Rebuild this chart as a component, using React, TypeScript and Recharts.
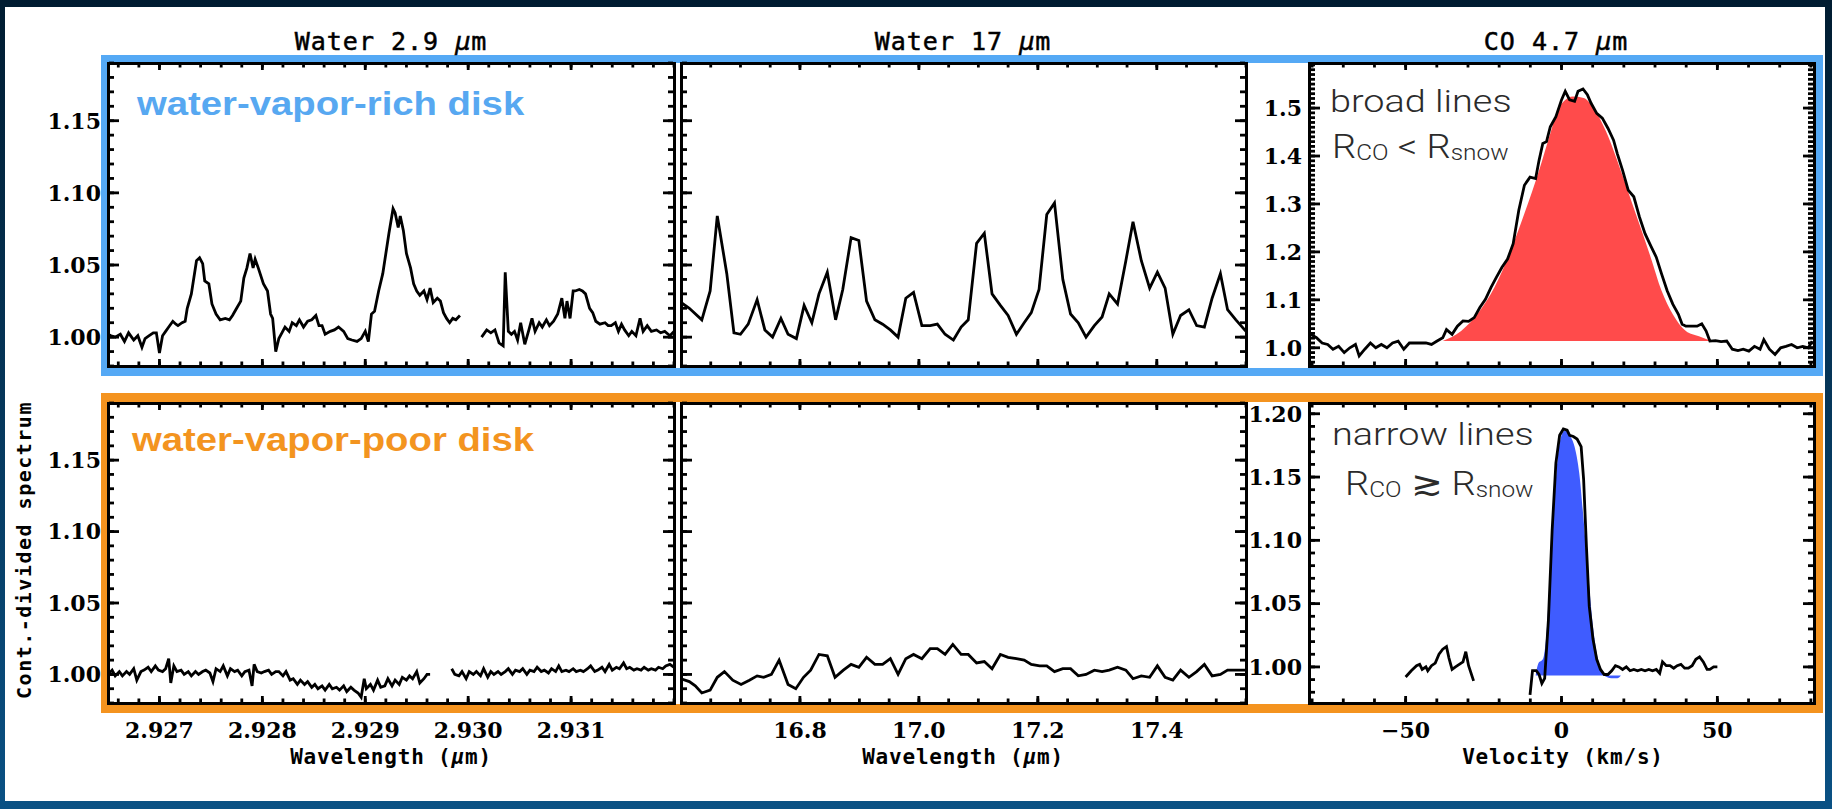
import React from 'react';
import { Area, ComposedChart, Line, XAxis, YAxis } from 'recharts';

type Pt = [number, number | null];

// ---- Water 2.9 um, rich disk (wavelength um, cont.-divided flux) ----
const rich29: Pt[] = [
	[2.9265, 1.002], [2.92653, 1.001], [2.92657, 1.0], [2.92662, 1.002], [2.92666, 0.997], [2.9267, 1.003],
	[2.92675, 0.998], [2.92679, 1.001], [2.92683, 0.993], [2.92686, 0.999], [2.9269, 1.001], [2.92694, 1.003],
	[2.92697, 1.003], [2.927, 0.989], [2.92703, 1.001], [2.92706, 1.004], [2.92709, 1.007], [2.92713, 1.011],
	[2.92716, 1.009], [2.92718, 1.008], [2.92722, 1.01], [2.92725, 1.011], [2.92727, 1.02], [2.92731, 1.03],
	[2.92736, 1.053], [2.92739, 1.055], [2.92742, 1.051], [2.92744, 1.039], [2.92748, 1.037], [2.92751, 1.023],
	[2.92755, 1.016], [2.92759, 1.012], [2.92764, 1.013], [2.92768, 1.012], [2.92771, 1.015], [2.92775, 1.02],
	[2.92779, 1.025], [2.92782, 1.041], [2.92785, 1.048], [2.92788, 1.058], [2.92791, 1.048], [2.92793, 1.054],
	[2.92796, 1.048], [2.92801, 1.037], [2.92805, 1.032], [2.92808, 1.016], [2.9281, 1.013], [2.92813, 0.99],
	[2.92816, 0.999], [2.92819, 1.003], [2.92822, 1.007], [2.92826, 1.004], [2.92829, 1.01], [2.92833, 1.008],
	[2.92836, 1.012], [2.9284, 1.007], [2.92844, 1.011], [2.92848, 1.012], [2.92852, 1.015], [2.92855, 1.008],
	[2.92858, 1.008], [2.92861, 1.002], [2.92866, 1.004], [2.9287, 1.005], [2.92874, 1.007], [2.92879, 1.004],
	[2.92883, 0.999], [2.92887, 0.998], [2.92892, 0.997], [2.92896, 0.999], [2.929, 1.004], [2.92903, 0.997],
	[2.92906, 1.016], [2.92909, 1.018], [2.92913, 1.032], [2.92917, 1.044], [2.9292, 1.058], [2.92923, 1.072],
	[2.92927, 1.089], [2.92929, 1.086], [2.92932, 1.076], [2.92934, 1.084], [2.92937, 1.074], [2.9294, 1.058],
	[2.92944, 1.048], [2.92947, 1.037], [2.9295, 1.032], [2.92953, 1.029], [2.92957, 1.032], [2.9296, 1.026],
	[2.92963, 1.034], [2.92966, 1.024], [2.9297, 1.027], [2.92973, 1.025], [2.92976, 1.017], [2.92979, 1.013],
	[2.92982, 1.01], [2.92985, 1.013], [2.92988, 1.012], [2.92992, 1.015], [2.93002, null],
	[2.93013, 1.0], [2.93018, 1.005], [2.93022, 1.003], [2.93026, 1.005], [2.9303, 0.996], [2.93034, 0.994],
	[2.93036, 1.045], [2.93039, 1.004], [2.93042, 1.002], [2.93045, 1.004], [2.93048, 0.998], [2.93051, 1.01],
	[2.93055, 0.995], [2.93059, 1.005], [2.93062, 1.013], [2.93065, 1.004], [2.93069, 1.01], [2.93072, 1.007],
	[2.93076, 1.012], [2.93079, 1.008], [2.93083, 1.011], [2.93087, 1.016], [2.93091, 1.027], [2.93094, 1.013],
	[2.93096, 1.025], [2.93099, 1.013], [2.93102, 1.032], [2.93104, 1.032], [2.93108, 1.033], [2.93111, 1.032],
	[2.93114, 1.03], [2.93118, 1.02], [2.93121, 1.017], [2.93124, 1.011], [2.93128, 1.009], [2.93133, 1.01],
	[2.93136, 1.008], [2.93139, 1.008], [2.93143, 1.01], [2.93146, 1.004], [2.93149, 1.009], [2.93152, 1.005],
	[2.93156, 1.001], [2.93159, 1.004], [2.93163, 1.001], [2.93167, 1.013], [2.9317, 1.004], [2.93174, 1.008],
	[2.93178, 1.004], [2.93183, 1.005], [2.93187, 1.003], [2.93191, 1.004], [2.93196, 1.001], [2.932, 1.004],
];

// ---- Water 2.9 um, poor disk ----
const poor29: Pt[] = [
	[2.9265, 1.0], [2.92654, 1.003], [2.92657, 0.999], [2.92661, 1.002], [2.92664, 0.999], [2.92668, 1.002],
	[2.92671, 1.0], [2.92675, 1.004], [2.92678, 0.996], [2.92682, 1.002], [2.92685, 1.003], [2.92689, 1.005],
	[2.92692, 1.002], [2.92696, 1.006], [2.92699, 1.003], [2.92703, 1.002], [2.92706, 1.004], [2.92709, 1.011],
	[2.92711, 0.994], [2.92714, 1.006], [2.92717, 1.002], [2.92721, 1.003], [2.92724, 1.0], [2.92728, 1.002],
	[2.92731, 0.999], [2.92735, 1.002], [2.92738, 1.0], [2.92742, 1.002], [2.92745, 1.003], [2.92749, 1.001],
	[2.92752, 0.995], [2.92755, 1.004], [2.92759, 1.002], [2.92762, 1.006], [2.92766, 0.999], [2.92769, 1.004],
	[2.92773, 1.002], [2.92776, 1.003], [2.9278, 0.999], [2.92783, 1.002], [2.92787, 1.003], [2.9279, 0.992],
	[2.92792, 1.007], [2.92795, 1.002], [2.92799, 1.001], [2.92802, 1.002], [2.92806, 1.003], [2.92809, 1.0],
	[2.92813, 1.002], [2.92816, 1.002], [2.9282, 0.999], [2.92823, 1.002], [2.92827, 0.996], [2.9283, 0.997],
	[2.92834, 0.993], [2.92837, 0.996], [2.92841, 0.993], [2.92844, 0.995], [2.92848, 0.991], [2.92851, 0.993],
	[2.92854, 0.99], [2.92858, 0.992], [2.92861, 0.989], [2.92865, 0.993], [2.92868, 0.99], [2.92872, 0.991],
	[2.92875, 0.989], [2.92879, 0.992], [2.92882, 0.988], [2.92886, 0.991], [2.92889, 0.989], [2.92893, 0.987],
	[2.92896, 0.984], [2.92899, 0.997], [2.92901, 0.99], [2.92905, 0.993], [2.92908, 0.989], [2.92912, 0.996],
	[2.92915, 0.991], [2.92919, 0.992], [2.92922, 0.997], [2.92926, 0.992], [2.92929, 0.996], [2.92933, 0.993],
	[2.92936, 0.998], [2.9294, 0.996], [2.92943, 0.999], [2.92946, 0.997], [2.9295, 1.002], [2.92953, 0.994],
	[2.92957, 0.997], [2.9296, 1.0], [2.92963, 1.0], [2.92975, null],
	[2.92984, 1.004], [2.92987, 1.0], [2.92991, 0.999], [2.92994, 1.002], [2.92998, 0.997], [2.93001, 1.002],
	[2.93005, 1.0], [2.93008, 1.002], [2.93012, 0.999], [2.93015, 1.004], [2.93019, 0.998], [2.93022, 1.002],
	[2.93025, 1.0], [2.93029, 1.002], [2.93032, 1.0], [2.93036, 1.002], [2.93039, 1.004], [2.93043, 1.0],
	[2.93046, 1.003], [2.9305, 1.002], [2.93053, 1.004], [2.93057, 1.0], [2.9306, 1.003], [2.93064, 1.002],
	[2.93067, 1.005], [2.93071, 1.002], [2.93074, 1.003], [2.93078, 1.001], [2.93081, 1.004], [2.93085, 1.002],
	[2.93088, 1.006], [2.93091, 1.002], [2.93095, 1.003], [2.93098, 1.002], [2.93102, 1.004], [2.93105, 1.002],
	[2.93109, 1.003], [2.93112, 1.002], [2.93116, 1.004], [2.93119, 1.006], [2.93123, 1.002], [2.93126, 1.003],
	[2.9313, 1.005], [2.93133, 1.002], [2.93137, 1.007], [2.9314, 1.003], [2.93144, 1.005], [2.93147, 1.004],
	[2.93151, 1.008], [2.93154, 1.004], [2.93157, 1.005], [2.93161, 1.003], [2.93164, 1.004], [2.93168, 1.003],
	[2.93171, 1.005], [2.93175, 1.003], [2.93178, 1.004], [2.93182, 1.003], [2.93185, 1.005], [2.93189, 1.004],
	[2.93192, 1.006], [2.93196, 1.007], [2.932, 1.005],
];

// ---- Water 17 um ----
const rich17: Pt[] = [
	[16.6, 1.024], [16.614, 1.02], [16.635, 1.012], [16.649, 1.032], [16.661, 1.084], [16.677, 1.044],
	[16.689, 1.003], [16.7, 1.002], [16.713, 1.009], [16.728, 1.026], [16.741, 1.005], [16.754, 1.0],
	[16.768, 1.013], [16.78, 1.002], [16.794, 0.999], [16.807, 1.022], [16.82, 1.01], [16.832, 1.03],
	[16.846, 1.045], [16.86, 1.012], [16.872, 1.033], [16.886, 1.069], [16.899, 1.067], [16.912, 1.025],
	[16.926, 1.012], [16.939, 1.009], [16.952, 1.005], [16.965, 1.0], [16.978, 1.027], [16.991, 1.031],
	[17.005, 1.008], [17.019, 1.008], [17.031, 1.009], [17.044, 1.002], [17.058, 0.998], [17.071, 1.007],
	[17.083, 1.012], [17.097, 1.065], [17.11, 1.072], [17.123, 1.03], [17.137, 1.022], [17.15, 1.015],
	[17.164, 1.002], [17.177, 1.01], [17.189, 1.017], [17.202, 1.033], [17.215, 1.085], [17.228, 1.093],
	[17.242, 1.04], [17.255, 1.016], [17.268, 1.01], [17.281, 1.0], [17.295, 1.008], [17.308, 1.014],
	[17.32, 1.03], [17.334, 1.023], [17.348, 1.053], [17.36, 1.08], [17.374, 1.053], [17.388, 1.034],
	[17.401, 1.045], [17.414, 1.034], [17.427, 1.002], [17.44, 1.015], [17.454, 1.019], [17.467, 1.008],
	[17.48, 1.007], [17.493, 1.027], [17.507, 1.044], [17.519, 1.019], [17.533, 1.012], [17.55, 1.004],
];

const poor17: Pt[] = [
	[16.6, 0.997], [16.614, 0.995], [16.624, 0.992], [16.635, 0.987], [16.649, 0.989], [16.661, 0.998],
	[16.673, 1.002], [16.687, 0.996], [16.701, 0.993], [16.715, 0.996], [16.728, 0.999], [16.739, 0.998],
	[16.752, 1.0], [16.765, 1.01], [16.78, 0.993], [16.793, 0.99], [16.806, 0.998], [16.818, 1.003],
	[16.832, 1.014], [16.846, 1.013], [16.859, 0.998], [16.873, 1.003], [16.886, 1.007], [16.899, 1.005],
	[16.912, 1.012], [16.926, 1.007], [16.939, 1.007], [16.952, 1.011], [16.965, 1.0], [16.978, 1.011],
	[16.991, 1.014], [17.005, 1.011], [17.019, 1.018], [17.031, 1.018], [17.044, 1.014], [17.057, 1.021],
	[17.071, 1.014], [17.083, 1.014], [17.097, 1.008], [17.11, 1.009], [17.123, 1.004], [17.137, 1.014],
	[17.15, 1.012], [17.164, 1.011], [17.177, 1.01], [17.189, 1.007], [17.203, 1.006], [17.215, 1.006],
	[17.228, 1.002], [17.242, 1.004], [17.255, 1.004], [17.268, 0.999], [17.281, 1.0], [17.295, 1.003],
	[17.308, 1.002], [17.32, 1.003], [17.334, 1.005], [17.348, 1.003], [17.36, 0.997], [17.374, 0.999],
	[17.388, 0.998], [17.401, 1.006], [17.414, 0.998], [17.427, 0.996], [17.44, 1.003], [17.454, 0.998],
	[17.467, 1.002], [17.48, 1.007], [17.493, 0.999], [17.507, 1.0], [17.519, 1.003], [17.533, 1.003],
	[17.55, 1.003],
];

// ---- CO 4.7 um (velocity km/s) ----
const coRich: Pt[] = [
	[-80.4, 1.028], [-78.6, 1.021], [-76.8, 1.01], [-75.0, 1.007], [-73.3, 0.997], [-71.5, 1.003],
	[-69.7, 0.99], [-67.9, 1.0], [-66.1, 1.007], [-64.9, 0.983], [-63.1, 0.997], [-61.3, 1.01],
	[-59.6, 1.0], [-57.8, 1.007], [-56.0, 1.0], [-54.2, 1.01], [-52.4, 1.014], [-50.6, 0.997],
	[-48.8, 1.01], [-47.1, 1.01], [-45.3, 1.01], [-43.5, 1.01], [-41.7, 1.007], [-39.9, 1.014],
	[-38.1, 1.021], [-36.9, 1.038], [-35.1, 1.028], [-33.4, 1.045], [-31.6, 1.056], [-29.8, 1.055],
	[-28.0, 1.063], [-26.2, 1.084], [-24.4, 1.101], [-22.6, 1.126], [-20.9, 1.147], [-19.1, 1.168],
	[-17.3, 1.185], [-15.5, 1.217], [-13.7, 1.287], [-11.9, 1.339], [-10.1, 1.356], [-8.3, 1.353],
	[-7.2, 1.391], [-6.0, 1.426], [-4.8, 1.43], [-3.6, 1.461], [-1.8, 1.482], [0.0, 1.517],
	[1.2, 1.535], [2.6, 1.517], [4.2, 1.514], [5.3, 1.535], [6.9, 1.54], [8.3, 1.528],
	[9.5, 1.51], [11.3, 1.489], [13.1, 1.479], [14.9, 1.458], [16.7, 1.433], [17.9, 1.405],
	[19.6, 1.37], [21.4, 1.329], [23.2, 1.315], [25.0, 1.273], [26.8, 1.238], [28.6, 1.213],
	[30.4, 1.189], [32.1, 1.154], [33.9, 1.119], [35.7, 1.091], [37.5, 1.07], [38.7, 1.049],
	[39.9, 1.045], [41.7, 1.045], [43.5, 1.045], [45.0, 1.05], [46.4, 1.035], [47.6, 1.014],
	[49.4, 1.015], [51.2, 1.013], [53.0, 1.014], [54.8, 0.997], [56.6, 0.994], [58.3, 0.997],
	[60.1, 0.993], [61.9, 1.003], [63.7, 0.997], [64.9, 1.017], [66.7, 0.997], [68.5, 0.986],
	[70.3, 1.0], [72.0, 1.003], [73.8, 1.007], [75.6, 1.0], [77.4, 1.003], [79.2, 1.0], [80.4, 1.014],
];

const coRichFit: Pt[] = [
	[-38.1, 1.014], [-32.2, 1.035], [-26.2, 1.077], [-21.5, 1.126], [-16.7, 1.196], [-11.9, 1.28],
	[-7.2, 1.37], [-3.6, 1.447], [-1.2, 1.496], [1.2, 1.517], [3.6, 1.524], [7.1, 1.521],
	[10.7, 1.496], [14.3, 1.451], [19.0, 1.37], [23.8, 1.28], [28.6, 1.189], [32.1, 1.119],
	[35.7, 1.07], [39.9, 1.035], [44.1, 1.024], [48.2, 1.014],
];

const coPoor: Pt[] = [
	[-50.0, 0.992], [-48.2, 0.997], [-46.5, 1.001], [-45.5, 1.002], [-44.7, 0.998], [-43.5, 1.0],
	[-42.9, 0.997], [-41.7, 1.001], [-40.5, 1.003], [-39.3, 1.01], [-38.1, 1.014], [-36.9, 1.016],
	[-36.1, 1.007], [-35.1, 0.998], [-34.0, 1.0], [-32.8, 1.002], [-31.6, 1.004], [-30.7, 1.012],
	[-29.8, 1.001], [-28.2, 0.989], [-20.0, null],
	[-10.1, 0.978], [-9.3, 0.997], [-8.1, 0.997], [-7.2, 0.994], [-6.3, 0.987], [-5.4, 0.991],
	[-4.2, 1.037], [-3.0, 1.108], [-1.8, 1.161], [-0.6, 1.183], [0.6, 1.188], [1.8, 1.187],
	[2.6, 1.183], [3.8, 1.182], [5.0, 1.18], [6.3, 1.174], [7.1, 1.148], [8.0, 1.095],
	[8.9, 1.048], [10.1, 1.022], [11.3, 1.006], [12.5, 0.998], [13.7, 0.994], [14.9, 0.994],
	[16.1, 0.997], [17.3, 1.001], [18.4, 1.0], [19.6, 0.998], [20.8, 1.0], [22.0, 0.997],
	[23.2, 0.998], [24.4, 0.997], [25.6, 0.998], [26.8, 0.997], [28.0, 0.998], [29.2, 0.997],
	[30.4, 0.998], [31.5, 0.995], [32.4, 1.004], [33.6, 1.001], [34.8, 1.001], [36.0, 0.999],
	[37.1, 1.001], [38.3, 1.002], [39.5, 0.999], [40.7, 0.999], [41.9, 1.001], [43.1, 1.006],
	[44.3, 1.008], [45.5, 1.004], [46.7, 0.998], [47.6, 0.998], [48.8, 1.0], [50.0, 1.0],
];

const coPoorFit: Pt[] = [
	[-8.3, 0.993], [-7.4, 1.003], [-6.0, 1.006], [-4.8, 1.027], [-3.6, 1.079], [-2.4, 1.127],
	[-1.2, 1.166], [0.0, 1.183], [1.2, 1.187], [2.6, 1.183], [4.2, 1.174], [5.7, 1.153],
	[7.1, 1.116], [8.6, 1.072], [10.1, 1.032], [11.7, 1.006], [13.1, 0.995], [14.5, 0.992],
	[16.1, 0.991], [17.9, 0.991], [19.0, 0.993],
];

// ---- tick labels ----
const w29XLabels = [2.927, 2.928, 2.929, 2.93, 2.931];
const w17XLabels = [16.8, 17.0, 17.2, 17.4];
const coXLabels = [-50, 0, 50];
const waterYLabels = [1.0, 1.05, 1.1, 1.15];
const coRichYLabels = [1.0, 1.1, 1.2, 1.3, 1.4, 1.5];
const coPoorYLabels = [1.0, 1.05, 1.1, 1.15, 1.2];

const steps = (a: number, b: number, s: number) => {
	const out: number[] = [];
	for (let v = a; v <= b + s * 1e-3; v += s) out.push(+v.toFixed(6));
	return out;
};

const IDL = '"DejaVu Sans Mono", monospace';
const NUM = '"DejaVu Serif", serif';
const HELV = '"Liberation Sans", Arial, sans-serif';
const LIGHT = 'Roboto, "Open Sans", sans-serif';
const BLUE = '#55a9f5';
const ORANGE = '#f4931f';
const tickLineStyle = { stroke: '#000', strokeWidth: 2.8 };
const noLabel = () => <g />;

type PanelProps = {
	left: number;
	top: number;
	width: number;
	height: number;
	xDomain: [number, number];
	yDomain: [number, number];
	xMajor: number[];
	xMinor: number[];
	yMajor: number[];
	yMinor: number[];
	xLabels?: number[];
	yLabels?: number[];
	xFmt?: (v: number) => string;
	yFmt?: (v: number) => string;
	line: Pt[];
	fill?: { pts: Pt[]; color: string; base: number };
};

const rows = (pts: Pt[]) => pts.map(([x, y]) => ({ x, y }));

// room above the frame so a label sitting on the top edge is not clipped
const PT = 16;

const Panel = (p: PanelProps) => {
	const LW = p.yLabels ? 70 : 0;
	const LH = p.xLabels ? 50 : 0;
	const xcommon = {
		type: 'number' as const,
		dataKey: 'x',
		allowDataOverflow: true,
		interval: 0 as const,
		axisLine: false,
		tick: noLabel,
		tickLine: tickLineStyle,
		mirror: true,
		height: 1,
		domain: p.xDomain,
	};
	const ycommon = {
		type: 'number' as const,
		allowDataOverflow: true,
		interval: 0 as const,
		axisLine: false,
		tick: noLabel,
		tickLine: tickLineStyle,
		mirror: true,
		width: 1,
		domain: p.yDomain,
	};
	const labelStyle = { fill: '#000', fontSize: 22, fontFamily: NUM, fontWeight: 'bold' };
	const cw = p.width + LW;
	const ch = p.height + LH + PT;
	return (
		<>
			<div style={{ position: 'absolute', left: p.left - LW, top: p.top - PT, width: cw, height: ch }}>
				<ComposedChart width={cw} height={ch} margin={{ top: PT, right: 0, bottom: 0, left: 0 }}>
					<XAxis xAxisId='xb' orientation='bottom' ticks={p.xMajor} tickSize={7} {...xcommon} />
					<XAxis xAxisId='xbm' orientation='bottom' ticks={p.xMinor} tickSize={3.5} {...xcommon} />
					<XAxis xAxisId='xt' orientation='top' ticks={p.xMajor} tickSize={7} {...xcommon} />
					<XAxis xAxisId='xtm' orientation='top' ticks={p.xMinor} tickSize={3.5} {...xcommon} />
					<YAxis yAxisId='yl' orientation='left' ticks={p.yMajor} tickSize={11} {...ycommon} />
					<YAxis yAxisId='ylm' orientation='left' ticks={p.yMinor} tickSize={5} {...ycommon} />
					<YAxis yAxisId='yr' orientation='right' ticks={p.yMajor} tickSize={11} {...ycommon} />
					<YAxis yAxisId='yrm' orientation='right' ticks={p.yMinor} tickSize={5} {...ycommon} />
					{p.xLabels && (
						<XAxis
							xAxisId='xlab'
							type='number'
							dataKey='x'
							orientation='bottom'
							height={LH}
							domain={p.xDomain}
							allowDataOverflow
							ticks={p.xLabels}
							interval={0}
							axisLine={false}
							tickLine={false}
							tickSize={0}
							tickMargin={19}
							tickFormatter={p.xFmt}
							tick={labelStyle}
						/>
					)}
					{p.yLabels && (
						<YAxis
							yAxisId='ylab'
							type='number'
							orientation='left'
							width={LW}
							domain={p.yDomain}
							allowDataOverflow
							ticks={p.yLabels}
							interval={0}
							axisLine={false}
							tickLine={false}
							tickSize={0}
							tickMargin={7}
							tickFormatter={p.yFmt}
							tick={labelStyle}
						/>
					)}
					{p.fill && (
						<Area
							xAxisId='xb'
							yAxisId='yl'
							data={rows(p.fill.pts)}
							dataKey='y'
							type='monotone'
							baseValue={p.fill.base}
							fill={p.fill.color}
							fillOpacity={1}
							stroke='none'
							isAnimationActive={false}
						/>
					)}
					<Line
						xAxisId='xb'
						yAxisId='yl'
						data={rows(p.line)}
						dataKey='y'
						type='linear'
						stroke='#000'
						strokeWidth={2.8}
						dot={false}
						isAnimationActive={false}
					/>
				</ComposedChart>
			</div>
			<div
				style={{
					position: 'absolute',
					left: p.left - 1.5,
					top: p.top - 1.5,
					width: p.width + 3,
					height: p.height + 3,
					border: '3px solid #000',
					boxSizing: 'border-box',
				}}
			/>
		</>
	);
};

const txt = (left: number, top: number, style: React.CSSProperties, children: React.ReactNode) => (
	<div style={{ position: 'absolute', left, top, whiteSpace: 'nowrap', lineHeight: 1, ...style }}>{children}</div>
);

const centered = (cx: number, top: number, style: React.CSSProperties, children: React.ReactNode) => (
	<div
		style={{
			position: 'absolute',
			left: cx - 200,
			width: 400,
			top,
			textAlign: 'center',
			whiteSpace: 'nowrap',
			lineHeight: 1,
			...style,
		}}
	>
		{children}
	</div>
);

const f2 = (v: number) => v.toFixed(2);
const f1 = (v: number) => v.toFixed(1);
const f3 = (v: number) => v.toFixed(3);
const fv = (v: number) => (v < 0 ? `\u2212${Math.abs(v)}` : `${v}`);

export default function App() {
	const W29 = { left: 108, width: 566, xDomain: [2.9265, 2.932] as [number, number], xMajor: w29XLabels, xMinor: steps(2.9266, 2.932, 0.0002) };
	const W17 = { left: 681, width: 565, xDomain: [16.6, 17.55] as [number, number], xMajor: w17XLabels, xMinor: steps(16.6, 17.55, 0.05) };
	const CO = { left: 1309, width: 505, xDomain: [-81, 81] as [number, number], xMajor: coXLabels, xMinor: steps(-80, 80, 10) };
	const waterY = { yDomain: [0.98, 1.19] as [number, number], yMajor: waterYLabels, yMinor: steps(0.98, 1.19, 0.01) };
	const top = { top: 63, height: 303 };
	const bot = { top: 403, height: 300 };
	const titleStyle: React.CSSProperties = {
		fontFamily: IDL,
		fontSize: 25,
		letterSpacing: 1,
		color: '#000',
		WebkitTextStroke: '0.5px #000',
	};
	const axisTitle: React.CSSProperties = { fontFamily: IDL, fontSize: 21, fontWeight: 'bold', letterSpacing: 0.8, color: '#000' };
	const annot: React.CSSProperties = {
		fontFamily: LIGHT,
		fontWeight: 300,
		fontSize: 31,
		color: '#2b2b2b',
		transform: 'scaleX(1.22)',
		transformOrigin: 'left',
	};
	const rLine: React.CSSProperties = { ...annot, fontSize: 34, transform: 'scaleX(1.12)' };
	const sub: React.CSSProperties = { fontSize: '0.64em', position: 'relative', top: 2 };

	return (
		<div
			style={{
				position: 'fixed',
				left: 0,
				top: 0,
				width: 1832,
				height: 809,
				overflow: 'hidden',
				background: 'linear-gradient(#001c31, #0a5184)',
			}}
		>
			<div style={{ position: 'absolute', left: 5, top: 7, width: 1820, height: 794, background: '#fff' }} />
			<div style={{ position: 'absolute', left: 101, top: 55, width: 1722, height: 321, border: `8px solid ${BLUE}`, boxSizing: 'border-box' }} />
			<div style={{ position: 'absolute', left: 101, top: 393, width: 1722, height: 320, border: `9px solid ${ORANGE}`, boxSizing: 'border-box' }} />

			<Panel {...W29} {...waterY} {...top} yLabels={waterYLabels} yFmt={f2} line={rich29} />
			<Panel {...W17} {...waterY} {...top} line={rich17} />
			<Panel
				{...CO}
				{...top}
				yDomain={[0.962, 1.594]}
				yMajor={coRichYLabels}
				yMinor={steps(0.97, 1.59, 0.01)}
				yLabels={coRichYLabels}
				yFmt={f1}
				line={coRich}
				fill={{ pts: coRichFit, color: '#ff4b4b', base: 1.014 }}
			/>
			<Panel {...W29} {...waterY} {...bot} yLabels={waterYLabels} yFmt={f2} xLabels={w29XLabels} xFmt={f3} line={poor29} />
			<Panel {...W17} {...waterY} {...bot} xLabels={w17XLabels} xFmt={f1} line={poor17} />
			<Panel
				{...CO}
				{...bot}
				yDomain={[0.9715, 1.2085]}
				yMajor={coPoorYLabels}
				yMinor={steps(0.98, 1.2, 0.01)}
				yLabels={coPoorYLabels}
				yFmt={f2}
				xLabels={coXLabels}
				xFmt={fv}
				line={coPoor}
				fill={{ pts: coPoorFit, color: '#3f5cff', base: 0.9932 }}
			/>

			{centered(391, 29, titleStyle, <>Water 2.9 <i>μ</i>m</>)}
			{centered(963, 29, titleStyle, <>Water 17 <i>μ</i>m</>)}
			{centered(1556, 29, titleStyle, <>CO 4.7 <i>μ</i>m</>)}

			{centered(391, 747, axisTitle, <>Wavelength (<i>μ</i>m)</>)}
			{centered(963, 747, axisTitle, <>Wavelength (<i>μ</i>m)</>)}
			{centered(1563, 747, axisTitle, <>Velocity (km/s)</>)}

			<div
				style={{
					position: 'absolute',
					left: 24,
					top: 550,
					transform: 'translate(-50%, -50%) rotate(-90deg)',
					fontFamily: IDL,
					fontWeight: 'bold',
					fontSize: 20,
					letterSpacing: 1.5,
					whiteSpace: 'nowrap',
					lineHeight: 1,
				}}
			>
				Cont.-divided spectrum
			</div>

			{txt(137, 87, { fontFamily: HELV, fontWeight: 'bold', fontSize: 33, color: '#57a8f1', transform: 'scaleX(1.16)', transformOrigin: 'left' }, 'water-vapor-rich disk')}
			{txt(132, 423, { fontFamily: HELV, fontWeight: 'bold', fontSize: 33, color: '#f3941f', transform: 'scaleX(1.16)', transformOrigin: 'left' }, 'water-vapor-poor disk')}

			{txt(1330, 86, annot, 'broad lines')}
			{txt(1332, 129, rLine, <>R<span style={sub}>CO</span> &lt; R<span style={sub}>snow</span></>)}
			{txt(1332, 419, annot, 'narrow lines')}
			{txt(1345, 466, rLine, <>R<span style={sub}>CO</span> ≳ R<span style={sub}>snow</span></>)}
		</div>
	);
}
